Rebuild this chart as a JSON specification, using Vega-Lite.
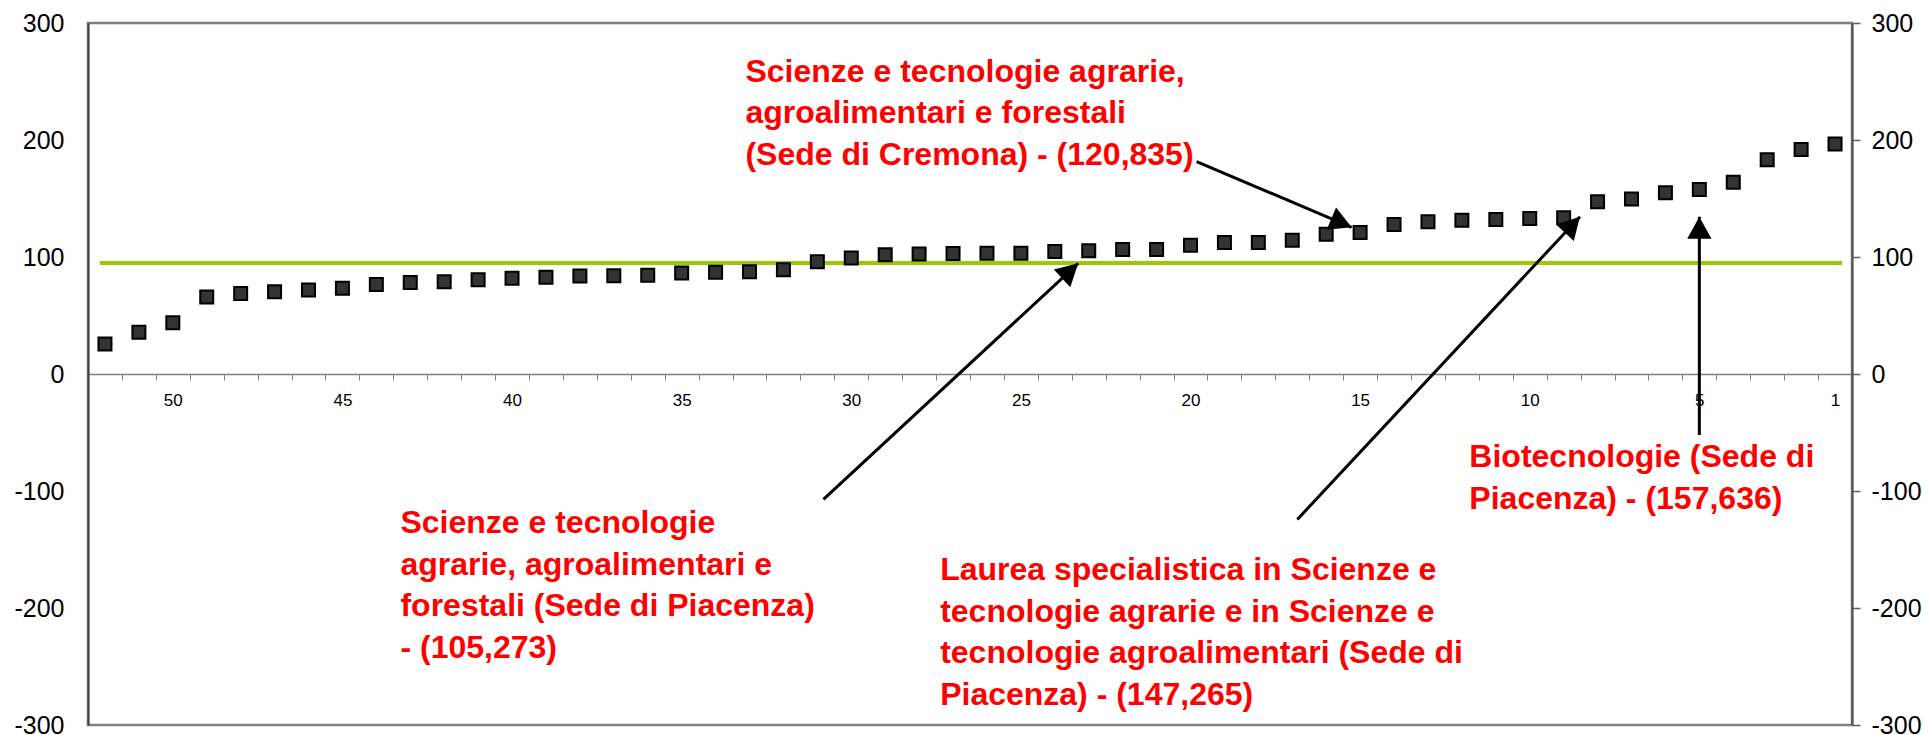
{
  "$schema": "https://vega.github.io/schema/vega-lite/v6.json",
  "autosize": {"type": "none"},
  "width": 1764,
  "height": 702,
  "padding": {"left": 88, "top": 23, "right": 78, "bottom": 10},
  "background": "white",
  "config": {
    "view": {"stroke": "#808080", "strokeWidth": 2.5},
    "font": "Liberation Sans",
    "axis": {"labelOverlap": false, "labelFlush": false, "labelBound": false}
  },
  "datasets": {
    "points": [
      {"r": 52, "v": 25.6}, {"r": 51, "v": 35.6}, {"r": 50, "v": 43.9}, {"r": 49, "v": 65.8},
      {"r": 48, "v": 68.9}, {"r": 47, "v": 70.4}, {"r": 46, "v": 71.8}, {"r": 45, "v": 73.2},
      {"r": 44, "v": 76.6}, {"r": 43, "v": 78.3}, {"r": 42, "v": 78.9}, {"r": 41, "v": 80.6},
      {"r": 40, "v": 81.8}, {"r": 39, "v": 82.6}, {"r": 38, "v": 83.8}, {"r": 37, "v": 83.9},
      {"r": 36, "v": 84.3}, {"r": 35, "v": 86.3}, {"r": 34, "v": 86.9}, {"r": 33, "v": 87.5},
      {"r": 32, "v": 89.2}, {"r": 31, "v": 96.0}, {"r": 30, "v": 99.2}, {"r": 29, "v": 102.0},
      {"r": 28, "v": 102.6}, {"r": 27, "v": 102.9}, {"r": 26, "v": 103.1}, {"r": 25, "v": 103.3},
      {"r": 24, "v": 104.8}, {"r": 23, "v": 105.273}, {"r": 22, "v": 106.4}, {"r": 21, "v": 106.5},
      {"r": 20, "v": 110.0}, {"r": 19, "v": 112.3}, {"r": 18, "v": 112.5}, {"r": 17, "v": 114.3},
      {"r": 16, "v": 119.4}, {"r": 15, "v": 120.835}, {"r": 14, "v": 127.7}, {"r": 13, "v": 130.2},
      {"r": 12, "v": 131.4}, {"r": 11, "v": 132.0}, {"r": 10, "v": 132.8}, {"r": 9, "v": 133.6},
      {"r": 8, "v": 147.265}, {"r": 7, "v": 149.6}, {"r": 6, "v": 155.0}, {"r": 5, "v": 157.636},
      {"r": 4, "v": 163.9}, {"r": 3, "v": 183.2}, {"r": 2, "v": 191.8}, {"r": 1, "v": 196.6}
    ],
    "mean": [{"r": 52.15, "r2": 0.79, "v": 94.8}],
    "notes": [
      {"r": 33.12, "v": 249.8, "t": "Scienze e tecnologie agrarie,\nagroalimentari e forestali\n(Sede di Cremona) - (120,835)"},
      {"r": 43.29, "v": -136.2, "t": "Scienze e tecnologie\nagrarie, agroalimentari e\nforestali (Sede di Piacenza)\n- (105,273)"},
      {"r": 27.38, "v": -176.1, "t": "Laurea specialistica in Scienze e\ntecnologie agrarie e in Scienze e\ntecnologie agroalimentari (Sede di\nPiacenza) - (147,265)"},
      {"r": 11.78, "v": -79.7, "t": "Biotecnologie (Sede di\nPiacenza) - (157,636)"}
    ],
    "arrows": [
      {"r": 19.82, "v": 181.5, "r2": 15.25, "v2": 125.4},
      {"r": 30.82, "v": -107.1, "r2": 23.31, "v2": 94.6},
      {"r": 16.85, "v": -124.3, "r2": 8.52, "v2": 134.4},
      {"r": 5.0, "v": -52.1, "r2": 5.0, "v2": 134.4}
    ]
  },
  "resolve": {"axis": {"y": "independent"}},
  "layer": [
    {
      "data": {"name": "mean"},
      "mark": {"type": "rule", "color": "#99CC00", "strokeWidth": 4},
      "encoding": {
        "x": {
          "field": "r", "type": "quantitative",
          "scale": {"domain": [52.5, 0.5], "nice": false, "zero": false},
          "axis": {
            "orient": "bottom", "offset": -351, "title": null, "grid": false,
            "tickCount": 200,
            "values": [52.5, 51.5, 50.5, 49.5, 48.5, 47.5, 46.5, 45.5, 44.5, 43.5, 42.5, 41.5, 40.5, 39.5, 38.5, 37.5, 36.5, 35.5, 34.5, 33.5, 32.5, 31.5, 30.5, 29.5, 28.5, 27.5, 26.5, 25.5, 24.5, 23.5, 22.5, 21.5, 20.5, 19.5, 18.5, 17.5, 16.5, 15.5, 14.5, 13.5, 12.5, 11.5, 10.5, 9.5, 8.5, 7.5, 6.5, 5.5, 4.5, 3.5, 2.5, 1.5, 0.5],
            "labelExpr": "(datum.value - 0.5 == 1 || ((datum.value - 0.5) % 5 == 0 && datum.value > 1)) ? '' + (datum.value - 0.5) : ''",
            "labelOffset": 16.96, "labelOverlap": false, "labelFlush": false, "labelBound": false,
            "labelFont": "Liberation Sans", "labelFontSize": 17, "labelColor": "#000000", "labelPadding": 12,
            "tickColor": "#808080", "tickSize": 6, "tickWidth": 1,
            "domainColor": "#808080", "domainWidth": 1.5
          }
        },
        "x2": {"field": "r2"},
        "y": {
          "field": "v", "type": "quantitative",
          "scale": {"domain": [-300, 300], "nice": false},
          "axis": {
            "orient": "left", "title": null, "grid": false,
            "values": [-300, -200, -100, 0, 100, 200, 300],
            "labelExpr": "'' + datum.value",
            "ticks": false, "labelPadding": 24,
            "labelFont": "Liberation Sans", "labelFontSize": 25, "labelColor": "#000000",
            "domainColor": "#404040", "domainWidth": 2
          }
        }
      }
    },
    {
      "data": {"name": "points"},
      "mark": {"type": "square", "size": 169, "filled": true, "color": "#333333", "stroke": "#000000", "strokeWidth": 2, "opacity": 1},
      "encoding": {
        "x": {"field": "r", "type": "quantitative"},
        "y": {
          "field": "v", "type": "quantitative",
          "axis": {
            "orient": "right", "title": null, "grid": false,
            "values": [-300, -200, -100, 0, 100, 200, 300],
            "labelExpr": "'' + datum.value",
            "ticks": true, "tickSize": 8, "tickColor": "#606060", "tickWidth": 1.5, "labelPadding": 11,
            "labelFont": "Liberation Sans", "labelFontSize": 25, "labelColor": "#000000",
            "domainColor": "#505050", "domainWidth": 2
          }
        }
      }
    },
    {
      "data": {"name": "arrows"},
      "mark": {"type": "rule", "color": "#000000", "strokeWidth": 3},
      "encoding": {
        "x": {"field": "r", "type": "quantitative"},
        "y": {"field": "v", "type": "quantitative", "axis": null},
        "x2": {"field": "r2"},
        "y2": {"field": "v2"}
      }
    },
    {
      "data": {"name": "arrows"},
      "mark": {
        "type": "point", "shape": "M0,0 L-0.55,1 L0.55,1 Z", "size": 1936,
        "filled": true, "color": "#000000", "opacity": 1, "strokeWidth": 0,
        "angle": {"expr": "atan2(scale('x', datum.r2) - scale('x', datum.r), scale('y', datum.v) - scale('y', datum.v2)) * 180 / PI"}
      },
      "encoding": {
        "x": {"field": "r2", "type": "quantitative"},
        "y": {"field": "v2", "type": "quantitative", "axis": null}
      }
    },
    {
      "data": {"name": "notes"},
      "mark": {
        "type": "text", "align": "left", "baseline": "alphabetic", "lineBreak": "\n", "lineHeight": 41.5,
        "font": "Liberation Sans", "fontWeight": "bold", "fontSize": 32, "color": "#FF0000"
      },
      "encoding": {
        "x": {"field": "r", "type": "quantitative"},
        "y": {"field": "v", "type": "quantitative", "axis": null},
        "text": {"field": "t", "type": "nominal"}
      }
    }
  ]
}
